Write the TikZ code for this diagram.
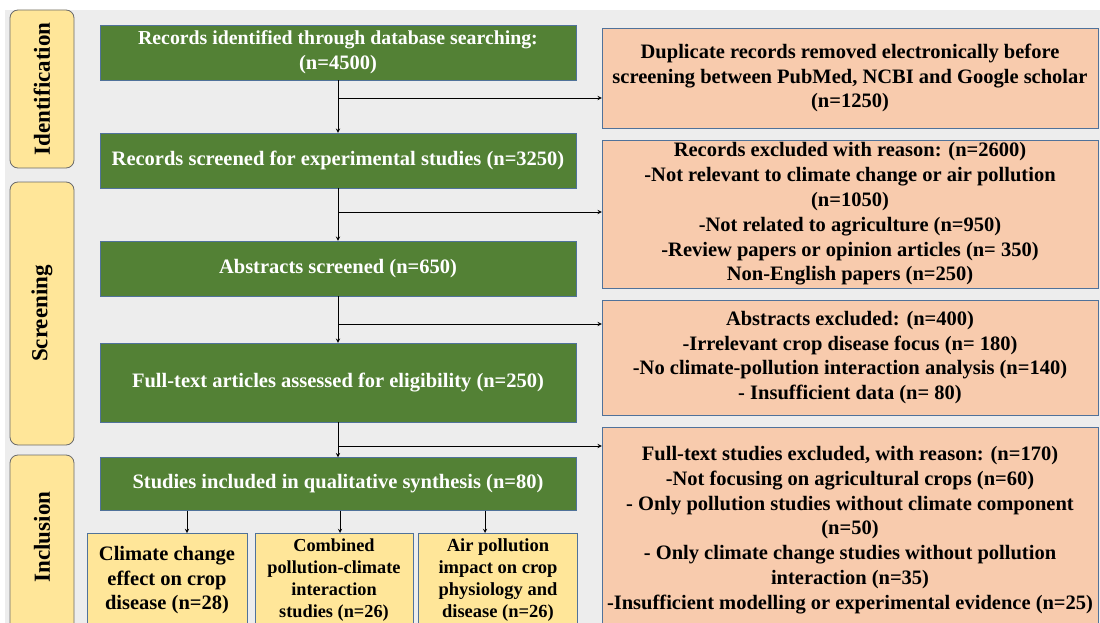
\documentclass[tikz,border=0pt]{standalone}
\usepackage{fontspec}
\setmainfont{Liberation Serif}
\usepackage{tikz}

\definecolor{bggrey}{HTML}{EDEDED}
\definecolor{boxgreen}{HTML}{538135}
\definecolor{boxsalmon}{HTML}{F8CBAD}
\definecolor{boxyellow}{HTML}{FFE699}
\definecolor{edgeblue}{HTML}{50729A}
\definecolor{edgegrey}{HTML}{6B6B6B}

\begin{document}
\begin{tikzpicture}[x=1pt, y=-1pt, >=stealth,
  greenbox/.style={draw=edgeblue, fill=boxgreen, text=white, align=center,
    inner sep=0pt, minimum width=476pt, font=\bfseries\fontsize{20.5}{25}\selectfont},
  excbox/.style={draw=edgeblue, fill=boxsalmon, align=center, inner sep=0pt,
    minimum width=496pt, font=\bfseries\fontsize{20.5}{24.8}\selectfont},
  phasebox/.style={draw=edgegrey, fill=boxyellow, rounded corners=8pt,
    inner sep=0pt, line width=0.8pt, minimum width=64pt},
  phaselabel/.style={rotate=90, font=\bfseries\fontsize{23}{26}\selectfont},
  resbox/.style={draw=edgeblue, fill=boxyellow, align=center, inner sep=0pt,
    anchor=north, minimum height=94pt},
  link/.style={->, line width=0.9pt}]

\useasboundingbox (0,0) rectangle (1100,623);
\clip (0,0) rectangle (1100,623);
\fill[bggrey] (5,10) rectangle (1100,623);

%------------------ PHASES ------------------%
\node[phasebox, minimum height=158pt] (pid) at (42,89) {};
\node[phaselabel] (lid) at (pid) {Identification};
\node[phasebox, minimum height=263pt] (pscr) at (42,313.5) {};
\node[phaselabel] (lscr) at (pscr) {Screening};
\node[phasebox, minimum height=190pt] (pinc) at (42,550) {};
\node[phaselabel] (linc) at (42,537) {Inclusion};

%------------------ MAIN COLUMN ------------------%
\node[greenbox, minimum height=55pt] (g1) at (338,52.5)
  {\fontsize{19.8}{25}\selectfont Records identified through database searching:\\(n=4500)};
\node[greenbox, minimum height=55pt] (g2) at (338,160.5)
  {Records screened for experimental studies (n=3250)};
\node[greenbox, minimum height=55pt] (g3) at (338,268.5)
  {Abstracts screened (n=650)};
\node[greenbox, minimum height=79pt] (g4) at (338,382.5)
  {Full-text articles assessed for eligibility (n=250)};
\node[greenbox, minimum height=53pt] (g5) at (338,484)
  {Studies included in qualitative synthesis (n=80)};

\draw[link] (g1) -- (g2);
\draw[link] (g2) -- (g3);
\draw[link] (g3) -- (g4);
\draw[link] (g4) -- (g5);

%------------------ EXCLUSIONS ------------------%
\node[excbox, minimum height=100pt] (r1) at (850,78)
  {Duplicate records removed electronically before\\
   screening between PubMed, NCBI and Google scholar\\(n=1250)};
\node[excbox, minimum height=148pt] (r2) at (850,214)
  {Records excluded with reason: (n=2600)\\
   -Not relevant to climate change or air pollution\\(n=1050)\\
   -Not related to agriculture (n=950)\\
   -Review papers or opinion articles (n= 350)\\
   Non-English papers (n=250)};
\node[excbox, minimum height=115pt] (r3) at (850,357.5)
  {Abstracts excluded: (n=400)\\
   -Irrelevant crop disease focus (n= 180)\\
   -No climate-pollution interaction analysis (n=140)\\
   - Insufficient data (n= 80)};
\node[excbox, minimum height=206pt] (r4) at (850,530)
  {Full-text studies excluded, with reason: (n=170)\\
   -Not focusing on agricultural crops (n=60)\\
   - Only pollution studies without climate component\\(n=50)\\
   - Only climate change studies without pollution\\interaction (n=35)\\
   -Insufficient modelling or experimental evidence (n=25)};

\coordinate (b1) at (338,98);
\coordinate (b2) at (338,212);
\coordinate (b3) at (338,324);
\coordinate (b4) at (338,446);
\draw[link] (b1) -- (b1 -| r1.west);
\draw[link] (b2) -- (b2 -| r2.west);
\draw[link] (b3) -- (b3 -| r3.west);
\draw[link] (b4) -- (b4 -| r4.west);

%------------------ INCLUDED GROUPS ------------------%
\node[resbox, minimum width=160pt, font=\bfseries\fontsize{20.5}{24.5}\selectfont]
  (y1) at (167,533) {Climate change\\effect on crop\\disease (n=28)};
\node[resbox, minimum width=158pt, font=\bfseries\fontsize{18.3}{22}\selectfont]
  (y2) at (334,533) {Combined\\pollution-climate\\interaction\\studies (n=26)};
\node[resbox, minimum width=159pt, font=\bfseries\fontsize{18.5}{22}\selectfont]
  (y3) at (498,533) {Air pollution\\impact on crop\\physiology and\\disease (n=26)};

\coordinate (t1) at (187,510.5);
\coordinate (t2) at (340,510.5);
\coordinate (t3) at (485,510.5);
\draw[link] (t1) -- (t1 |- y1.north);
\draw[link] (t2) -- (t2 |- y2.north);
\draw[link] (t3) -- (t3 |- y3.north);

\end{tikzpicture}
\end{document}
